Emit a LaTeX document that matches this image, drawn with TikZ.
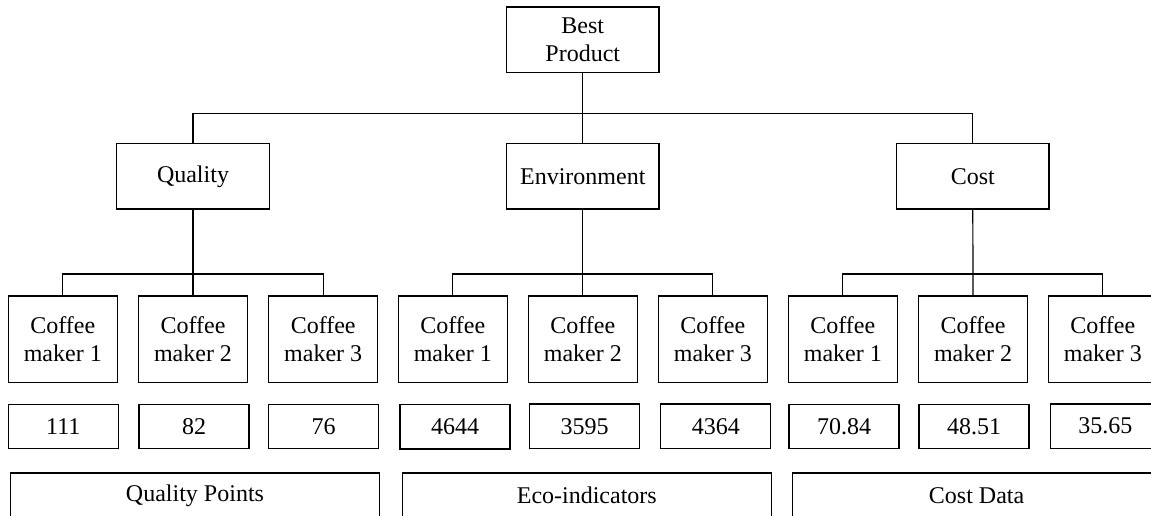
\documentclass[tikz,border=0pt]{standalone}
\usepackage{fontspec}
\setmainfont{Liberation Serif}
\begin{document}
\begin{tikzpicture}[x=0.75pt,y=-0.75pt,
  every node/.style={font=\fontsize{18}{20.8}\selectfont},
  box/.style={draw,line width=0.9pt,rectangle,inner sep=0pt,align=center},
  topbox/.style={box,minimum width=152.5*0.75pt,minimum height=65.5*0.75pt},
  makerbox/.style={box,minimum width=109*0.75pt,minimum height=86.3*0.75pt},
  valbox/.style={box,minimum width=110*0.75pt,minimum height=44.3*0.75pt},
  sumbox/.style={box,minimum width=368.6*0.75pt,minimum height=45*0.75pt},
  conn/.style={line width=0.9pt}]
\useasboundingbox (0,0) rectangle (1151,516);
\clip (0,0) rectangle (1151,516);
% top
\node[topbox] (best) at (582.8,39.8) {Best\\Product};
\node[topbox] (q) at (193,176.3) {Quality};
\node[topbox] (e) at (582.8,176.3) {Environment};
\node[topbox] (c) at (972.8,176.3) {Cost};
\coordinate (bar1) at (0,113.5);
\coordinate (bar2) at (0,274);
\draw[conn] (best.south) -- (e.north);
\draw[conn] (q.north) -- (q.north |- bar1) -- (c.north |- bar1) -- (c.north);
% coffee makers
\node[makerbox] (m1) at (62.8,339.2) {Coffee\\maker 1};
\node[makerbox] (m2) at (193,339.2) {Coffee\\maker 2};
\node[makerbox] (m3) at (323.2,339.2) {Coffee\\maker 3};
\node[makerbox] (m4) at (452.8,339.2) {Coffee\\maker 1};
\node[makerbox] (m5) at (582.8,339.2) {Coffee\\maker 2};
\node[makerbox] (m6) at (712.8,339.2) {Coffee\\maker 3};
\node[makerbox] (m7) at (842.8,339.2) {Coffee\\maker 1};
\node[makerbox] (m8) at (973,339.2) {Coffee\\maker 2};
\node[makerbox] (m9) at (1102.8,339.2) {Coffee\\maker 3};
\draw[conn] (q.south) -- (m2.north);
\draw[conn] (m1.north) -- (m1.north |- bar2) -- (m3.north |- bar2) -- (m3.north);
\draw[conn] (e.south) -- (m5.north);
\draw[conn] (m4.north) -- (m4.north |- bar2) -- (m6.north |- bar2) -- (m6.north);
\draw[conn] (c.south) -- (m8.north);
\draw[conn] (m7.north) -- (m7.north |- bar2) -- (m9.north |- bar2) -- (m9.north);
% values
\node[valbox] (v1) at (63.3,426.6) {111};
\node[valbox] (v2) at (194,426.6) {82};
\node[valbox] (v3) at (323.7,426.4) {76};
\node[valbox] (v4) at (455,426.8) {4644};
\node[valbox] (v5) at (584.7,426.2) {3595};
\node[valbox] (v6) at (715.8,426.2) {4364};
\node[valbox] (v7) at (844,426.6) {70.84};
\node[valbox] (v8) at (974,426.6) {48.51};
\node[valbox] (v9) at (1105.3,426.2) {35.65};
% summaries
\node[sumbox] (s1) at (195,495.5) {Quality Points};
\node[sumbox] (s2) at (586.8,495.5) {Eco-indicators};
\node[sumbox] (s3) at (976.6,495.5) {Cost Data};
\end{tikzpicture}
\end{document}
